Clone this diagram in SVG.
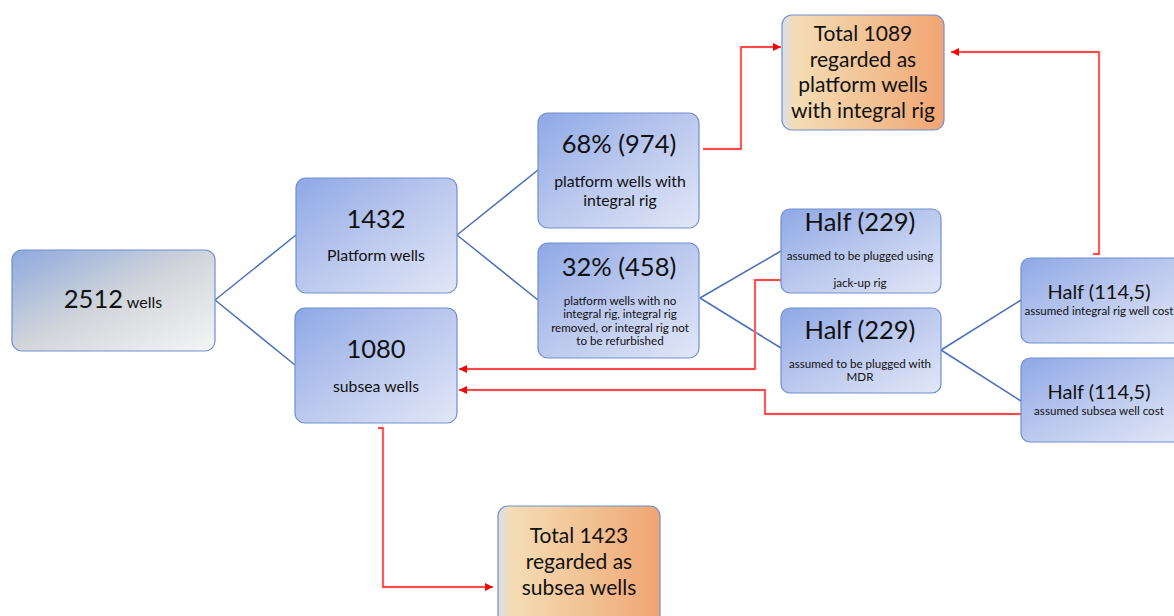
<svg xmlns="http://www.w3.org/2000/svg" width="1174" height="616" viewBox="0 0 1174 616">
<defs>
<linearGradient id="gBlue" x1="0" y1="0" x2="1" y2="1">
<stop offset="0" stop-color="#8ea8e6"/>
<stop offset="0.5" stop-color="#bcc9ee"/>
<stop offset="1" stop-color="#e2e7f7"/>
</linearGradient>
<linearGradient id="gGray" x1="0" y1="0" x2="1" y2="1">
<stop offset="0" stop-color="#8eaade"/>
<stop offset="0.5" stop-color="#d2d5da"/>
<stop offset="1" stop-color="#f5f5f5"/>
</linearGradient>
<linearGradient id="gOrange" x1="0" y1="0" x2="1" y2="0">
<stop offset="0" stop-color="#d9dfea"/>
<stop offset="0.08" stop-color="#f4ddb5"/>
<stop offset="0.5" stop-color="#f2c597"/>
<stop offset="1" stop-color="#f1a472"/>
</linearGradient>
<marker id="arr" viewBox="0 0 10 10" refX="10" refY="5" markerWidth="10" markerHeight="8" markerUnits="userSpaceOnUse" orient="auto">
<path d="M0,0 L10,5 L0,10 z" fill="#ff0000"/>
</marker>
</defs>
<style>
.node{stroke:#6f8fd0;stroke-width:1.2}
.blue{fill:url(#gBlue)}
.gray{fill:url(#gGray)}
.orange{fill:url(#gOrange)}
text{font-family:Lato,"Open Sans","Liberation Sans",sans-serif;fill:#111111;text-anchor:middle}
.big{font-size:25.5px}
.mid{font-size:21px}
.mid2{font-size:20px}
.sm{font-size:15.8px}
.xs{font-size:11.6px}
.blueline{stroke:#4a6fbf;stroke-width:1.5;fill:none}
.redline{stroke:#ff2020;stroke-width:1.3;fill:none}
.halo{stroke:#ffc4c4;stroke-width:2.6;fill:none}
</style>
<rect width="1174" height="616" fill="#ffffff"/>
<g id="connectors">
<path class="blueline" d="M215,300 L296,235 M215,300 L295,365"/>
<path class="blueline" d="M457,235 L538,170 M457,235 L538,300"/>
<path class="blueline" d="M700,298 L781,251 M700,298 L781,348"/>
<path class="blueline" d="M941,350 L1021,300 M941,350 L1021,401"/>
<g>
<path class="halo" d="M703,149 H741 V47 H772"/>
<path class="redline" d="M703,149 H741 V47 H781" marker-end="url(#arr)"/>
<path class="halo" d="M1093,254 H1099 V52 H961"/>
<path class="redline" d="M1093,254 H1099 V52 H951" marker-end="url(#arr)"/>
<path class="halo" d="M781,280 H755 V369 H468"/>
<path class="redline" d="M781,280 H755 V369 H459" marker-end="url(#arr)"/>
<path class="halo" d="M1021,414 H765 V390 H468"/>
<path class="redline" d="M1021,414 H765 V390 H459" marker-end="url(#arr)"/>
<path class="halo" d="M378,428 H383 V587 H483"/>
<path class="redline" d="M378,428 H383 V587 H493" marker-end="url(#arr)"/>
</g>
</g>
<g id="n2512">
<rect class="node gray" x="12" y="250" width="203" height="101" rx="10"/>
<text x="113" y="308"><tspan class="big">2512</tspan><tspan style="font-size:16px"> wells</tspan></text>
</g>
<g id="n1432">
<rect class="node blue" x="296" y="178" width="161" height="115" rx="10"/>
<text class="big" x="376" y="228">1432</text>
<text class="sm" x="376" y="261">Platform wells</text>
</g>
<g id="n1080">
<rect class="node blue" x="295" y="308" width="162" height="115" rx="10"/>
<text class="big" x="376" y="358">1080</text>
<text class="sm" x="376" y="392">subsea wells</text>
</g>
<g id="n68">
<rect class="node blue" x="538" y="113" width="161" height="115" rx="10"/>
<text class="big" x="619" y="153">68% (974)</text>
<text class="sm" x="620" y="187">platform wells with</text>
<text class="sm" x="620" y="206">integral rig</text>
</g>
<g id="n32">
<rect class="node blue" x="538" y="243" width="161" height="115" rx="10"/>
<text class="big" x="619" y="276">32% (458)</text>
<text class="xs" x="620" y="305">platform wells with no</text>
<text class="xs" x="620" y="318">integral rig, integral rig</text>
<text class="xs" x="620" y="332">removed, or integral rig not</text>
<text class="xs" x="620" y="345">to be refurbished</text>
</g>
<g id="nHalfJack">
<rect class="node blue" x="781" y="209" width="160" height="84" rx="9"/>
<text class="big" x="860" y="231">Half (229)</text>
<text class="xs" x="860" y="260">assumed to be plugged using</text>
<text class="xs" x="860" y="287">jack-up rig</text>
</g>
<g id="nHalfMDR">
<rect class="node blue" x="781" y="308" width="160" height="85" rx="9"/>
<text class="big" x="860" y="339">Half (229)</text>
<text class="xs" x="860" y="368">assumed to be plugged with</text>
<text class="xs" x="860" y="381">MDR</text>
</g>
<g id="nHalfIntegral">
<rect class="node blue" x="1021" y="258" width="162" height="85" rx="9"/>
<text class="mid2" x="1099" y="299">Half (114,5)</text>
<text class="xs" x="1099" y="315">assumed integral rig well cost</text>
</g>
<g id="nHalfSubsea">
<rect class="node blue" x="1021" y="358" width="162" height="84" rx="9"/>
<text class="mid2" x="1099" y="399">Half (114,5)</text>
<text class="xs" x="1099" y="415">assumed subsea well cost</text>
</g>
<g id="nTotal1089">
<rect class="node orange" x="782" y="15" width="162" height="115" rx="10"/>
<text class="mid" x="863" y="41">Total 1089</text>
<text class="mid" x="863" y="67">regarded as</text>
<text class="mid" x="863" y="92">platform wells</text>
<text class="mid" x="863" y="118">with integral rig</text>
</g>
<g id="nTotal1423">
<rect class="node orange" x="498" y="506" width="162" height="125" rx="10"/>
<text class="mid" x="579" y="543">Total 1423</text>
<text class="mid" x="579" y="569">regarded as</text>
<text class="mid" x="579" y="595">subsea wells</text>
</g>
</svg>
